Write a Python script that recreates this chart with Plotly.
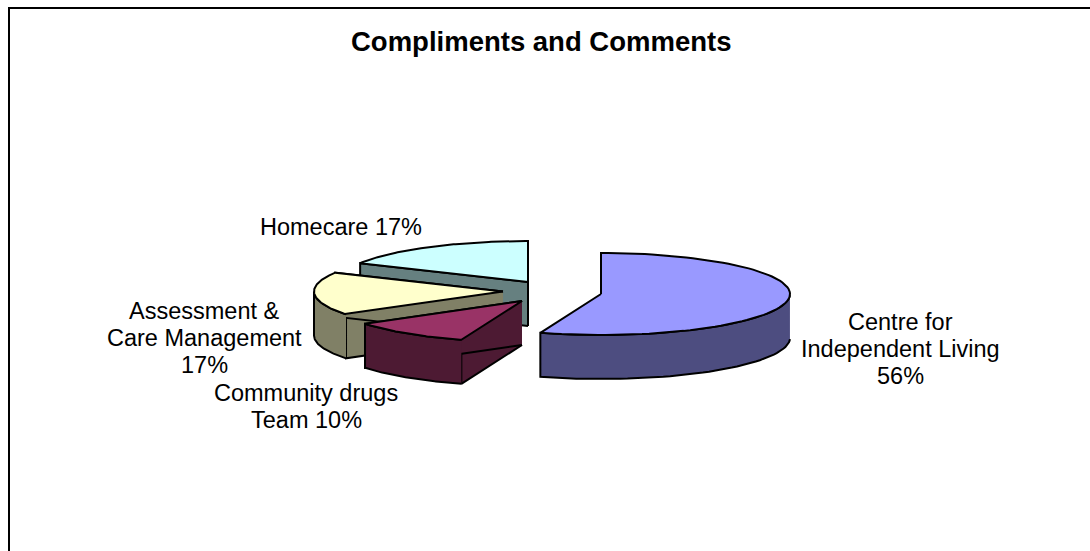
import numpy as np
import plotly.graph_objects as go

categories = ["Centre for Independent Living", "Community drugs Team", "Assessment & Care Management", "Homecare"]
values = [55.2, 10.4, 17.0, 17.4]
label_lines = [["Centre for", "Independent Living", "56%"], ["Community drugs", "Team 10%"],
               ["Assessment &", "Care Management", "17%"], ["Homecare 17%"]]
top_colors = ["#9999FF", "#993366", "#FFFFCC", "#CCFFFF"]
side_colors = ["#4D4D80", "#4D1A33", "#808066", "#668080"]
centres = [(601, 294), (522, 301), (503, 291.5), (528, 282)]
label_pos = [(900, 349), (306, 406), (204, 338), (341, 227)]
RX, RY, DEPTH = 189, 41, 44
LINE_H = 27

W, H = 1090, 551
fig = go.Figure()


def pt(c, a):
    return c[0] + RX * np.sin(a), c[1] - RY * np.cos(a)


def poly(xs, ys, color):
    fig.add_trace(go.Scatter(x=list(xs), y=list(ys), mode="lines", fill="toself", fillcolor=color,
                             line=dict(color="black", width=2), hoverinfo="skip", showlegend=False))


edges = np.concatenate([[0], np.cumsum(values)]) / sum(values) * 2 * np.pi
order = [3, 2, 1, 0]
for i in order:
    a0, a1 = edges[i], edges[i + 1]
    c = centres[i]
    arc = np.linspace(a0, a1, 90)
    ax, ay = pt(c, arc)
    if i != 0:
        for a in (a0, a1):
            px, py = pt(c, a)
            poly([c[0], px, px, c[0]], [c[1], py, py + DEPTH, c[1] + DEPTH], side_colors[i])
    mask = np.cos(arc) <= 0
    if mask.any():
        fx, fy = ax[mask], ay[mask]
        poly(np.r_[fx, fx[::-1]], np.r_[fy, fy[::-1] + DEPTH], side_colors[i])
    poly(np.r_[c[0], ax, c[0]], np.r_[c[1], ay, c[1]], top_colors[i])

fig.add_shape(type="rect", xref="x", yref="y", x0=9, x1=1200, y0=8, y1=700,
              line=dict(color="black", width=2), layer="below")

for (x, y), lines in zip(label_pos, label_lines):
    n = len(lines)
    for k, t in enumerate(lines):
        fig.add_annotation(x=x, y=y + (k - (n - 1) / 2) * LINE_H, text=t, showarrow=False,
                           xanchor="center", yanchor="middle",
                           font=dict(family="Liberation Sans", size=23.5, color="black"))

fig.add_annotation(x=541, y=41, text="<b>Compliments and Comments</b>", showarrow=False,
                   font=dict(family="Liberation Sans", size=27.5, color="black"))

fig.update_xaxes(range=[0, W], visible=False)
fig.update_yaxes(range=[H, 0], visible=False)
fig.update_layout(width=W, height=H, margin=dict(l=0, r=0, t=0, b=0), paper_bgcolor="white", plot_bgcolor="white")
fig.write_html("out.html", post_script="document.body.style.margin='0';", config={"displayModeBar": False})
